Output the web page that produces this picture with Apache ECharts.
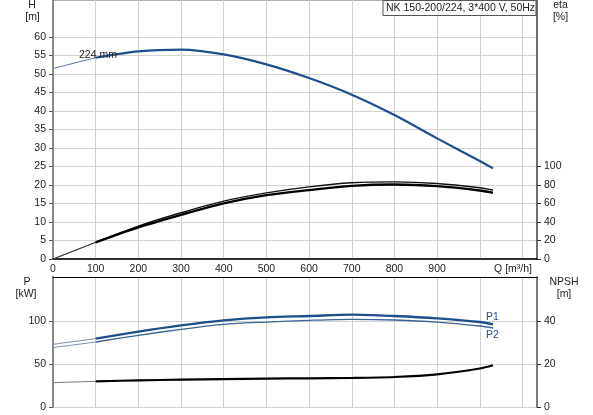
<!DOCTYPE html>
<html><head><meta charset="utf-8">
<script src="https://cdn.jsdelivr.net/npm/echarts@6/dist/echarts.min.js"></script>
<style>html,body{margin:0;padding:0;background:#fff}#c{width:593px;height:415px}</style>
</head><body><div id="c"></div>
<script>
var flow = [0,100,200,300,400,500,600,700,800,900,1000,1031];
var head = [51.5,54.4,56.1,56.6,55.3,52.6,48.9,44.4,38.9,32.6,26.5,24.5];
var etaUpper = [0,18,35.6,50.0,62.6,71.5,78.0,82.4,83.4,81.7,77.0,74.5];
var etaLower = [0,18,34.2,47.8,60.1,69.0,74.5,79.1,80.6,78.8,74.1,71.6];
var powerP1 = [72.9,79.5,87.7,95.0,100.8,104.3,105.8,107.4,105.8,103.1,98.8,96.2];
var powerP2 = [69.1,75.6,83.4,90.3,96.2,98.8,100.8,102.0,101.2,98.8,94.2,91.9];
var npsh = [11.3,11.95,12.4,12.7,13.0,13.2,13.35,13.5,13.95,15.2,17.9,19.4];
var xTickLabels = [0,100,200,300,400,500,600,700,800,900];
var hTickLabels = [0,5,10,15,20,25,30,35,40,45,50,55,60];
var etaTickLabels = [0,20,40,60,80,100];
var pTickLabels = [0,50,100];
var npshTickLabels = [0,20,40];

function pairs(vals){ return flow.map(function(q,i){ return [q, vals[i]]; }); }
var F = 'Liberation Sans, Arial, sans-serif';
var FS = 10.5;
var TC = '#222';
var BLUE = '#1f4f8b';

function thinThick(name, vals, xi, yi, color, thinColor, w, z){
  var d = pairs(vals);
  return [
    {name:name+'_thin', type:'line', xAxisIndex:xi, yAxisIndex:yi, data:d.slice(0,2), symbol:'none',
     lineStyle:{color:thinColor, width:1}, silent:true, z:z},
    {name:name, type:'line', xAxisIndex:xi, yAxisIndex:yi, data:d.slice(1), symbol:'none', smooth:0.3,
     lineStyle:{color:color, width:w}, silent:true, z:z}
  ];
}

var chart = echarts.init(document.getElementById('c'), null, {renderer:'canvas'});
var xCommon = {type:'value', min:0, max:1134, interval:100,
  splitLine:{show:true, lineStyle:{color:'#d2d2d2', width:1}}, axisTick:{show:false}};
var series = [].concat(
  thinThick('H', head, 0, 0, BLUE, '#5a78a0', 2.2, 5),
  thinThick('etaU', etaUpper, 0, 1, '#111', '#444', 1.4, 4),
  thinThick('etaL', etaLower, 0, 1, '#000', '#444', 2.4, 4),
  thinThick('P1', powerP1, 1, 2, BLUE, '#7a8fae', 2.4, 5),
  thinThick('P2', powerP2, 1, 2, '#3a6398', '#7a8fae', 1.3, 5),
  thinThick('NPSH', npsh, 1, 3, '#000', '#777', 2.2, 4)
);

chart.setOption({
  animation:false,
  grid:[
    {left:53, right:56, top:0, height:259, show:true, borderColor:'#666', borderWidth:1},
    {left:53, right:56, top:277, height:130, show:false}
  ],
  xAxis:[
    Object.assign({}, xCommon, {gridIndex:0,
      axisLine:{show:true, onZero:false, lineStyle:{color:'#000', width:1.5}},
      axisLabel:{show:true, margin:5, color:TC, fontFamily:F, fontSize:FS, customValues:xTickLabels}}),
    Object.assign({}, xCommon, {gridIndex:1, position:'top',
      axisLine:{show:true, onZero:false, lineStyle:{color:'#000', width:1.2}},
      axisLabel:{show:false}})
  ],
  yAxis:[
    {type:'value', gridIndex:0, min:0, max:70, interval:5, position:'left',
     axisLine:{show:true, lineStyle:{color:'#888', width:2}},
     axisTick:{show:true, length:4, lineStyle:{color:'#555'}, customValues:hTickLabels},
     axisLabel:{color:TC, fontFamily:F, fontSize:FS, margin:7, customValues:hTickLabels},
     splitLine:{show:true, lineStyle:{color:'#d2d2d2', width:1}}},
    {type:'value', gridIndex:0, min:0, max:280, interval:20, position:'right',
     axisLine:{show:true, lineStyle:{color:'#555', width:1.5}},
     axisTick:{show:true, length:4, lineStyle:{color:'#333'}, customValues:etaTickLabels},
     axisLabel:{color:TC, fontFamily:F, fontSize:FS, margin:7, customValues:etaTickLabels},
     splitLine:{show:false}},
    {type:'value', gridIndex:1, min:0, max:151.2, interval:50, position:'left',
     axisLine:{show:true, lineStyle:{color:'#888', width:2}},
     axisTick:{show:true, length:4, lineStyle:{color:'#555'}, customValues:pTickLabels},
     axisLabel:{color:TC, fontFamily:F, fontSize:FS, margin:7, customValues:pTickLabels},
     splitLine:{show:true, lineStyle:{color:'#d2d2d2', width:1}}},
    {type:'value', gridIndex:1, min:0, max:60.48, interval:20, position:'right',
     axisLine:{show:true, lineStyle:{color:'#555', width:1.5}},
     axisTick:{show:true, length:4, lineStyle:{color:'#333'}, customValues:npshTickLabels},
     axisLabel:{color:TC, fontFamily:F, fontSize:FS, margin:7, customValues:npshTickLabels},
     splitLine:{show:false}}
  ],
  series: series,
  graphic:[
    {type:'rect', shape:{x:383, y:0.5, width:153, height:15}, style:{fill:'#fff', stroke:'#555', lineWidth:1}, z:100},
    {type:'text', x:386, y:8, style:{text:'NK 150-200/224, 3*400 V, 50Hz', fill:TC, font:FS+'px '+F, textVerticalAlign:'middle'}, z:101},
    {type:'text', x:32, y:5, style:{text:'H', fill:TC, font:FS+'px '+F, textAlign:'center', textVerticalAlign:'middle'}},
    {type:'text', x:32.5, y:17, style:{text:'[m]', fill:TC, font:FS+'px '+F, textAlign:'center', textVerticalAlign:'middle'}},
    {type:'text', x:560.5, y:5, style:{text:'eta', fill:TC, font:FS+'px '+F, textAlign:'center', textVerticalAlign:'middle'}},
    {type:'text', x:560.5, y:17, style:{text:'[%]', fill:TC, font:FS+'px '+F, textAlign:'center', textVerticalAlign:'middle'}},
    {type:'text', x:532, y:269, style:{text:'Q [m³/h]', fill:TC, font:FS+'px '+F, textAlign:'right', textVerticalAlign:'middle'}},
    {type:'text', x:27, y:282.5, style:{text:'P', fill:TC, font:FS+'px '+F, textAlign:'center', textVerticalAlign:'middle'}},
    {type:'text', x:26, y:294.5, style:{text:'[kW]', fill:TC, font:FS+'px '+F, textAlign:'center', textVerticalAlign:'middle'}},
    {type:'text', x:564, y:282.5, style:{text:'NPSH', fill:TC, font:FS+'px '+F, textAlign:'center', textVerticalAlign:'middle'}},
    {type:'text', x:564, y:294.5, style:{text:'[m]', fill:TC, font:FS+'px '+F, textAlign:'center', textVerticalAlign:'middle'}},
    {type:'text', x:79, y:55.5, style:{text:'224 mm', fill:TC, font:FS+'px '+F, textVerticalAlign:'middle'}, z:100},
    {type:'text', x:486, y:317.5, style:{text:'P1', fill:BLUE, font:FS+'px '+F, textVerticalAlign:'middle'}, z:100},
    {type:'text', x:486, y:335.5, style:{text:'P2', fill:BLUE, font:FS+'px '+F, textVerticalAlign:'middle'}, z:100}
  ]
});
</script>
</body></html>
